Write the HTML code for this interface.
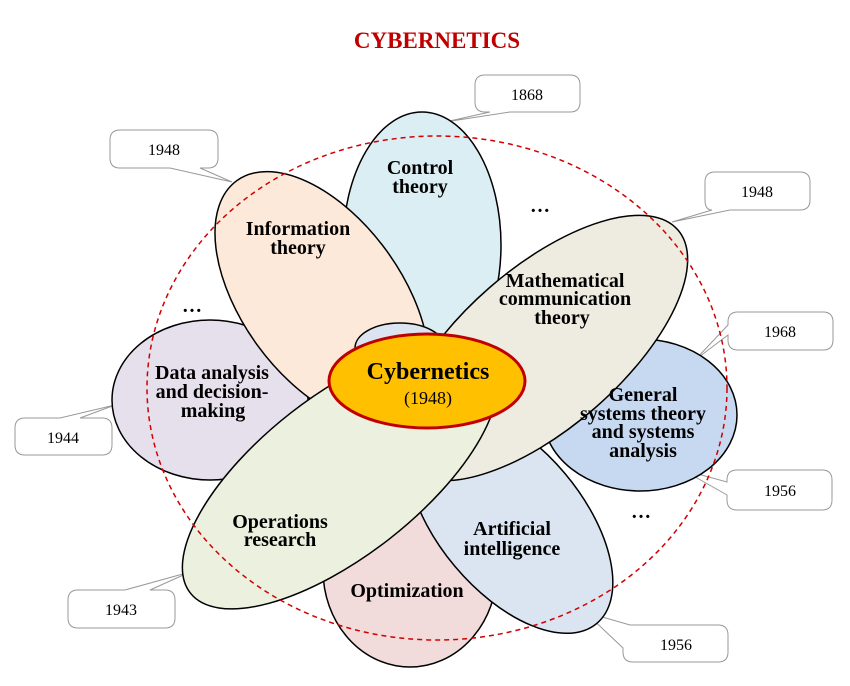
<!DOCTYPE html>
<html><head><meta charset="utf-8"><style>
html,body{margin:0;padding:0;background:#fff;}
svg{display:block;}
.l{font-family:"Liberation Serif",serif;font-weight:bold;font-size:20px;fill:#000;text-anchor:middle;}
.y{font-family:"Liberation Serif",serif;font-size:16px;fill:#000;text-anchor:middle;}
.e{stroke:#000;stroke-width:1.5;}
.c{fill:#fff;stroke:#999;stroke-width:1;}
</style></head><body>
<svg width="850" height="686" viewBox="0 0 850 686" xmlns="http://www.w3.org/2000/svg">
<text x="437" y="48" style="font-family:'Liberation Serif',serif;font-weight:bold;font-size:23px;fill:#c00000;text-anchor:middle">CYBERNETICS</text>

<path class="c" d="M485,75 H570 Q580,75 580,85 V102 Q580,112 570,112 H510 L445,122 L490,112 H485 Q475,112 475,102 V85 Q475,75 485,75 Z"/>
<text class="y" x="527" y="100">1868</text>
<path class="c" d="M120,130 H208 Q218,130 218,140 V158 Q218,168 208,168 H200 L232,182 L170,168 H120 Q110,168 110,158 V140 Q110,130 120,130 Z"/>
<text class="y" x="164" y="155">1948</text>
<path class="c" d="M715,172 H800 Q810,172 810,182 V200 Q810,210 800,210 H730 L672,222 L712,210 Q705,210 705,200 V182 Q705,172 715,172 Z"/>
<text class="y" x="757" y="197">1948</text>
<path class="c" d="M738,312 H823 Q833,312 833,322 V340 Q833,350 823,350 H738 Q728,350 728,340 V335 L695,360 L728,325 V322 Q728,312 738,312 Z"/>
<text class="y" x="780" y="337">1968</text>
<path class="c" d="M25,418 H60 L115,405 L80,418 H102 Q112,418 112,428 V445 Q112,455 102,455 H25 Q15,455 15,445 V428 Q15,418 25,418 Z"/>
<text class="y" x="63" y="443">1944</text>
<path class="c" d="M737,470 H822 Q832,470 832,480 V500 Q832,510 822,510 H737 Q727,510 727,500 V495 L683,470 L727,482 V480 Q727,470 737,470 Z"/>
<text class="y" x="780" y="496">1956</text>
<path class="c" d="M78,590 H125 L190,572 L150,590 H165 Q175,590 175,600 V618 Q175,628 165,628 H78 Q68,628 68,618 V600 Q68,590 78,590 Z"/>
<text class="y" x="121" y="615">1943</text>
<path class="c" d="M633,625 H718 Q728,625 728,635 V652 Q728,662 718,662 H633 Q623,662 623,652 V648 L585,612 L630,625 Z"/>
<text class="y" x="676" y="650">1956</text>

<ellipse class="e" cx="422" cy="245" rx="79" ry="133" fill="#dbeef3"/>
<ellipse class="e" cx="210" cy="400" rx="98" ry="80" fill="#e5e0ec"/>
<ellipse class="e" cx="640" cy="415" rx="97" ry="76" fill="#c6d9f1"/>
<ellipse class="e" cx="410" cy="570" rx="87" ry="97" fill="#f2dcdb"/>
<ellipse class="e" cx="0" cy="0" rx="145" ry="80" fill="#fde9d9" transform="translate(322,298) rotate(54)"/>
<ellipse class="e" cx="0" cy="0" rx="135" ry="72" fill="#dbe5f1" transform="translate(510,520) rotate(50)"/>
<ellipse class="e" cx="400" cy="348" rx="45" ry="25" fill="#dbe5f1"/>
<ellipse class="e" cx="0" cy="0" rx="180" ry="80" fill="#eeece1" transform="translate(542,348) rotate(-41)"/>
<ellipse class="e" cx="0" cy="0" rx="190" ry="80" fill="#ebf1de" transform="translate(340,476) rotate(-38)"/>
<ellipse cx="427" cy="381" rx="98" ry="47" fill="#ffc000" stroke="#c00000" stroke-width="3"/>

<ellipse cx="437" cy="388" rx="290" ry="252" fill="none" stroke="#d00000" stroke-width="1.5" stroke-dasharray="5,4"/>

<text class="l" x="420" y="174">Control</text>
<text class="l" x="420" y="193">theory</text>
<text class="l" x="298" y="235">Information</text>
<text class="l" x="298" y="254">theory</text>
<text class="l" x="565" y="287">Mathematical</text>
<text class="l" x="565" y="305">communication</text>
<text class="l" x="562" y="324">theory</text>
<text class="l" x="212" y="379">Data analysis</text>
<text class="l" x="212" y="398">and decision-</text>
<text class="l" x="213" y="417">making</text>
<text class="l" x="643" y="401">General</text>
<text class="l" x="643" y="420">systems theory</text>
<text class="l" x="643" y="438">and systems</text>
<text class="l" x="643" y="457">analysis</text>
<text class="l" x="280" y="528">Operations</text>
<text class="l" x="280" y="546">research</text>
<text class="l" x="512" y="535">Artificial</text>
<text class="l" x="512" y="555">intelligence</text>
<text class="l" x="407" y="597">Optimization</text>
<text x="428" y="379" style="font-family:'Liberation Serif',serif;font-weight:bold;font-size:24px;text-anchor:middle">Cybernetics</text>
<text x="428" y="404" style="font-family:'Liberation Serif',serif;font-size:18px;text-anchor:middle">(1948)</text>

<text class="l" x="540" y="212">…</text>
<text class="l" x="192" y="312">…</text>
<text class="l" x="641" y="518">…</text>
</svg>
</body></html>
